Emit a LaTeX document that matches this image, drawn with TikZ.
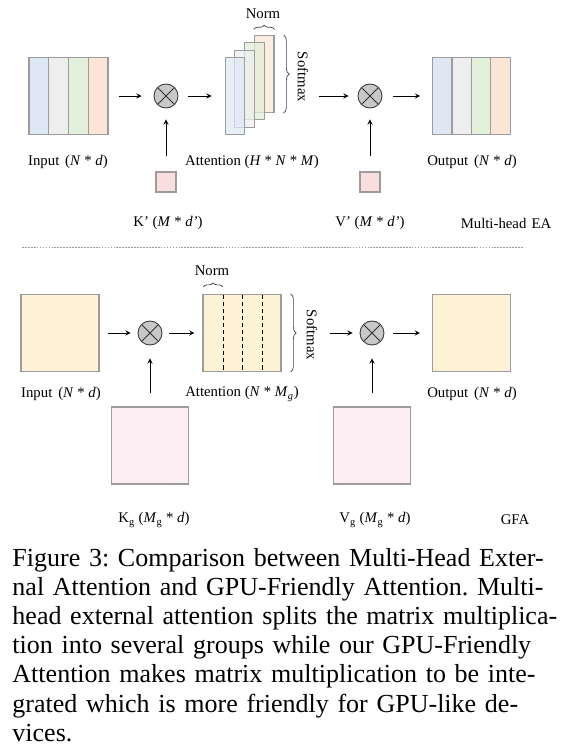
\documentclass[tikz,border=0pt]{standalone}
\usepackage{fontspec}
\setmainfont{Liberation Serif}
\usetikzlibrary{decorations.pathreplacing}

\definecolor{stripblue}{HTML}{DEE8F4}
\definecolor{stripgray}{HTML}{EEEEEE}
\definecolor{stripgreen}{HTML}{E2EFDA}
\definecolor{striporange}{HTML}{FBE5D6}
\definecolor{keypink}{HTML}{F9DEDE}
\definecolor{gpink}{HTML}{FDEEF3}
\definecolor{gyellow}{HTML}{FDF2D6}
\definecolor{edgegray}{HTML}{9C9C9C}
\definecolor{multgray}{HTML}{C8C8C8}

\begin{document}
\begin{tikzpicture}[x=0.025cm, y=-0.025cm, >=stealth, line width=0.65pt,
        strip/.style={rectangle, draw=edgegray, line width=0.8pt, minimum width=0.494cm, minimum height=1.925cm, inner sep=0pt},
        sqbox/.style={rectangle, draw=edgegray, line width=0.8pt, minimum width=1.95cm, minimum height=1.925cm, inner sep=0pt},
        kbox/.style={rectangle, draw=edgegray, fill=keypink, line width=0.8pt, minimum size=0.5cm, inner sep=0pt},
        mult/.style={circle, draw=black!75, fill=multgray, minimum size=0.6cm, inner sep=0pt,
            path picture={\draw[black!80] (path picture bounding box.north west) -- (path picture bounding box.south east)
                (path picture bounding box.north east) -- (path picture bounding box.south west);}},
        lbl/.style={inner sep=0pt, font=\fontsize{10.5}{12}\selectfont},
        brc/.style={decorate, decoration={brace, amplitude=3pt}, line width=0.5pt, black!75}
    ]
    \useasboundingbox (0,0) rectangle (580,753);

    % Multi-head EA: input
    \foreach \c [count=\i] in {stripblue, stripgray, stripgreen, striporange}
        \node[strip, fill=\c] (in\i) at ({29+9.875+19.75*(\i-1)}, 96) {};
    \node[lbl] (inlbl) at (68,162) {Input\hspace{0.4em}(\textit{N} * \textit{d})};

    \node[mult] (mult1) at (166,96) {};
    \draw[->, shorten <=0.25cm, shorten >=0.3cm] (in4) -- (mult1);

    % stacked attention heads
    \foreach \c/\i in {striporange/3, stripgreen/2, stripgray/1, stripblue/0}
        \node[strip, fill=\c, fill opacity=0.75] (att\i) at ({235+9.7*\i}, {96-7.3*\i}) {};
    \node[lbl] (attlbl) at (252,162) {Attention (\textit{H} * \textit{N} * \textit{M})};
    \draw[->, shorten <=0.25cm, shorten >=0.325cm] (mult1) -- (att0);

    \draw[brc] ([yshift=4pt]att3.north west) -- ([yshift=4pt]att3.north east);
    \node[lbl] (norm1) at (263,14) {Norm};
    \draw[brc, decoration={amplitude=4pt}] ([xshift=0.225cm]att3.north east) -- ([xshift=0.225cm]att3.south east);
    \node[lbl, rotate=-90] (smax1) at (303,77) {Softmax};

    % K'
    \node[kbox] (kp) at (166,182) {};
    \node[lbl] (kplbl) at (168,223) {K’ (\textit{M} * \textit{d’})};
    \draw[->, shorten <=0.375cm, shorten >=0.275cm] (kp) -- (mult1);

    % V' and output
    \node[mult] (mult2) at (370,96) {};
    \draw[->, shorten <=0.25cm, shorten >=0.225cm] (smax1.north |- mult2) -- (mult2);
    \node[kbox] (vp) at (370,182) {};
    \node[lbl] (vplbl) at (370,223) {V’ (\textit{M} * \textit{d’})};
    \draw[->, shorten <=0.375cm, shorten >=0.275cm] (vp) -- (mult2);

    \foreach \c [count=\i] in {stripblue, stripgray, stripgreen, striporange}
        \node[strip, fill=\c] (out\i) at ({433+9.625+19.25*(\i-1)}, 96) {};
    \node[lbl] (outlbl) at (472,162) {Output\hspace{0.4em}(\textit{N} * \textit{d})};
    \draw[->, shorten <=0.275cm, shorten >=0.3cm] (mult2) -- (out1);
    \node[lbl] (ealbl) at (506,223) {Multi-head\hspace{0.35em}EA};

    % separator
    \draw[edgegray, line width=0.5pt, dash pattern=on 1.2pt off 0.9pt] (22,247) -- (523,247);

    % GFA
    \node[sqbox, fill=gyellow] (ing) at (60,333) {};
    \node[lbl] (inglbl) at (61,394) {Input\hspace{0.4em}(\textit{N} * \textit{d})};
    \node[mult] (mult3) at (150,333) {};
    \draw[->, shorten <=0.2cm, shorten >=0.175cm] (ing) -- (mult3);

    \node[sqbox, fill=gyellow] (attg) at (242,333) {};
    \foreach \x in {223, 242, 262}
        \draw[line width=0.7pt, dash pattern=on 3pt off 2pt] (\x,295) -- (\x,370);
    \node[lbl] (attglbl) at (242,394) {Attention (\textit{N} * \textit{M}\textsubscript{\textit{g}})};
    \draw[->, shorten <=0.175cm, shorten >=0.2cm] (mult3) -- (attg);

    \draw[brc] (203,287) -- (223,287);
    \node[lbl] (norm2) at (212,271) {Norm};
    \draw[brc, decoration={amplitude=4pt}] ([xshift=0.225cm]attg.north east) -- ([xshift=0.225cm]attg.south east);
    \node[lbl, rotate=-90] (smax2) at (312,335) {Softmax};

    \node[sqbox, fill=gpink, minimum width=1.925cm] (kg) at (150,445.5) {};
    \node[lbl] (kglbl) at (154,520) {K\textsubscript{g} (\textit{M}\textsubscript{g} * \textit{d})};
    \draw[->, shorten <=0.325cm, shorten >=0.325cm] (kg) -- (mult3);

    \node[mult] (mult4) at (372,333) {};
    \draw[->, shorten <=0.3cm, shorten >=0.175cm] (smax2.north |- mult4) -- (mult4);
    \node[sqbox, fill=gpink, minimum width=1.925cm] (vg) at (372,445.5) {};
    \node[lbl] (vglbl) at (375,520) {V\textsubscript{g} (\textit{M}\textsubscript{g} * \textit{d})};
    \draw[->, shorten <=0.325cm, shorten >=0.325cm] (vg) -- (mult4);

    \node[sqbox, fill=gyellow] (outg) at (471.5,333) {};
    \node[lbl] (outglbl) at (472,394) {Output\hspace{0.4em}(\textit{N} * \textit{d})};
    \draw[->, shorten <=0.225cm, shorten >=0.3cm] (mult4) -- (outg);
    \node[lbl] (gfalbl) at (515,520) {GFA};

    % caption
    \node[anchor=north west, inner sep=0pt, text width=13.65cm,
          font=\fontsize{18.5}{20.7}\selectfont] (cap) at (12,548) {%
        \frenchspacing\tolerance=10000 \emergencystretch=2em
        Figure 3: Comparison between Multi-Head Exter-\linebreak
        nal Attention and GPU-Friendly Attention. Multi-\linebreak
        head external attention splits the matrix multiplica-\linebreak
        tion into several groups while our GPU-Friendly\linebreak
        Attention makes matrix multiplication to be inte-\linebreak
        grated which is more friendly for GPU-like de-\linebreak
        vices.};

\end{tikzpicture}
\end{document}
